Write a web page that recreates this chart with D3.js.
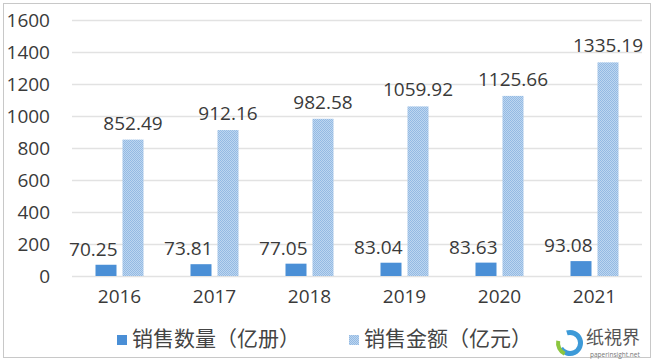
<!DOCTYPE html>
<html>
<head>
<meta charset="utf-8">
<script src="https://cdn.jsdelivr.net/npm/d3@7/dist/d3.min.js"></script>
<style>
  body { margin: 0; background: #fff; }
  svg { display: block; }
  text { font-family: "Open Sans", "Noto Sans CJK SC", sans-serif; fill: #3a3a3a; }
</style>
</head>
<body>
<svg width="654" height="362"></svg>
<script>
const years = ["2016", "2017", "2018", "2019", "2020", "2021"];
const quantity = [70.25, 73.81, 77.05, 83.04, 83.63, 93.08];   // 销售数量（亿册）
const amount = [852.49, 912.16, 982.58, 1059.92, 1125.66, 1335.19]; // 销售金额（亿元）
const yTicks = [0, 200, 400, 600, 800, 1000, 1200, 1400, 1600];
const seriesNames = ["销售数量（亿册）", "销售金额（亿元）"];

const svg = d3.select("svg");
const margin = {top: 20, right: 12, bottom: 86, left: 72};
const width = 654 - margin.left - margin.right;
const height = 362 - margin.top - margin.bottom;

// outer frame
svg.append("rect")
  .attr("x", 3.5).attr("y", 3.5).attr("width", 647).attr("height", 354)
  .attr("fill", "none").attr("stroke", "#c8c8c8").attr("stroke-width", 1);

// dotted fill for the amount bars
const defs = svg.append("defs");
const pat = defs.append("pattern")
  .attr("id", "dots").attr("patternUnits", "userSpaceOnUse")
  .attr("width", 2).attr("height", 2);
pat.append("rect").attr("width", 2).attr("height", 2).attr("fill", "#bdd6f0");
pat.append("rect").attr("width", 1).attr("height", 1).attr("fill", "#94bae3");
pat.append("rect").attr("x", 1).attr("y", 1).attr("width", 1).attr("height", 1).attr("fill", "#94bae3");

const g = svg.append("g").attr("transform", `translate(${margin.left},${margin.top})`);

const x = d3.scaleBand().domain(years).range([0, width]);
const y = d3.scaleLinear().domain([0, 1600]).range([height, 0]);

const barW = 21, gap = 6;

// gridlines
g.append("g").selectAll("line").data(yTicks).enter().append("line")
  .attr("x1", 0).attr("x2", width)
  .attr("y1", d => y(d) + 0.5).attr("y2", d => y(d) + 0.5)
  .attr("stroke", "#e2e2e2").attr("stroke-width", 1.5);

// y axis labels
const yAxis = d3.axisLeft(y).tickValues(yTicks).tickFormat(d3.format("d")).tickSize(0).tickPadding(22);
g.append("g").call(yAxis)
  .call(s => s.select(".domain").remove())
  .selectAll("text").attr("font-size", 19).style("fill", "#3a3a3a");

// x axis labels
const xAxis = d3.axisBottom(x).tickSize(0).tickPadding(14);
g.append("g").attr("transform", `translate(0,${height})`).call(xAxis)
  .call(s => s.select(".domain").remove())
  .selectAll("text").attr("font-size", 19).style("fill", "#3a3a3a");

const cx = d => x(d) + x.bandwidth() / 2;

// quantity bars
g.append("g").selectAll("rect").data(years).enter().append("rect")
  .attr("x", d => cx(d) - gap / 2 - barW)
  .attr("width", barW)
  .attr("y", (d, i) => y(quantity[i]))
  .attr("height", (d, i) => height - y(quantity[i]))
  .attr("fill", "#4a8fd6");

// amount bars
g.append("g").selectAll("rect").data(years).enter().append("rect")
  .attr("x", d => cx(d) + gap / 2)
  .attr("width", barW)
  .attr("y", (d, i) => y(amount[i]))
  .attr("height", (d, i) => height - y(amount[i]))
  .attr("fill", "url(#dots)");

// value labels
g.append("g").selectAll("text").data(years).enter().append("text")
  .attr("x", d => cx(d) - gap / 2 + 1)
  .attr("y", (d, i) => y(quantity[i]) - 9)
  .attr("text-anchor", "end").attr("font-size", 19)
  .text((d, i) => quantity[i].toFixed(2));

g.append("g").selectAll("text").data(years).enter().append("text")
  .attr("x", d => cx(d) + gap / 2 + barW / 2)
  .attr("y", (d, i) => y(amount[i]) - 10)
  .attr("text-anchor", "middle").attr("font-size", 19)
  .text((d, i) => amount[i].toFixed(2));

// legend
const legend = svg.append("g");
const legendX = [117, 349];
seriesNames.forEach((name, i) => {
  const lg = legend.append("g").attr("transform", `translate(${legendX[i]},335)`);
  lg.append("rect").attr("width", 10).attr("height", 10)
    .attr("fill", i === 0 ? "#4a8fd6" : "url(#dots)");
  lg.append("text").attr("x", 15).attr("y", 11)
    .attr("font-family", "Noto Sans CJK SC").attr("font-size", 21)
    .style("fill", "#444")
    .text(name);
});

// watermark
const wm = svg.append("g").attr("transform", "translate(570,343)");
wm.append("path")
  .attr("d", d3.arc()({innerRadius: 8, outerRadius: 13, startAngle: -0.3, endAngle: 4.2}))
  .attr("fill", "#3d9ad8");
wm.append("path")
  .attr("d", d3.arc()({innerRadius: 10, outerRadius: 14, startAngle: 3.6, endAngle: 4.9}))
  .attr("fill", "#8cc63f");
wm.append("text").attr("x", 16).attr("y", 1)
  .attr("font-family", "Noto Sans CJK SC").attr("font-size", 18)
  .style("fill", "#555").text("纸視界");
wm.append("text").attr("x", 20).attr("y", 14)
  .attr("font-family", "Liberation Sans").attr("font-size", 6.5)
  .style("fill", "#777").text("paperinsight.net");
</script>
</body>
</html>
